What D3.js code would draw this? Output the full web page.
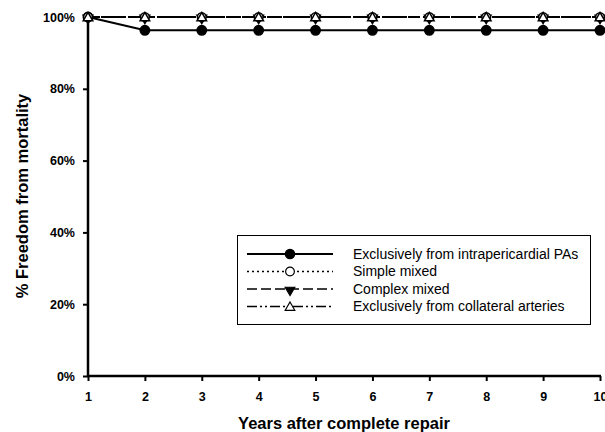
<!DOCTYPE html>
<html><head><meta charset="utf-8">
<script src="https://cdn.jsdelivr.net/npm/d3@7"></script>
<style>body{margin:0;background:#fff}svg{display:block}</style>
</head><body>
<svg id="c" width="605" height="432"></svg>
<script>
const years = [1,2,3,4,5,6,7,8,9,10];
const intrapericardial = [100,96.3,96.3,96.3,96.3,96.3,96.3,96.3,96.3,96.3];
const simpleMixed = [100,100,100,100,100,100,100,100,100,100];
const complexMixed = [100,100,100,100,100,100,100,100,100,100];
const collateral = [100,100,100,100,100,100,100,100,100,100];
const seriesNames = ["Exclusively from intrapericardial PAs","Simple mixed","Complex mixed","Exclusively from collateral arteries"];
const yTicks = [0,20,40,60,80,100];

const FONT = "Liberation Sans, Arial, sans-serif";
const svg = d3.select("#c");
const x = d3.scaleLinear().domain([1,10]).range([88,600]);
const y = d3.scaleLinear().domain([0,100]).range([376,17]);

const series = [
  {name:seriesNames[0], vals:intrapericardial, dash:null, sym:d3.symbolCircle, size:70, fill:"#000"},
  {name:seriesNames[1], vals:simpleMixed, dash:"2,3", sym:d3.symbolCircle, size:60, fill:"#fff"},
  {name:seriesNames[2], vals:complexMixed, dash:"10,4", sym:d3.symbolTriangle, size:40, fill:"#000", rot:180},
  {name:seriesNames[3], vals:collateral, dash:"10,3,2,3,2,3", sym:d3.symbolTriangle, size:40, fill:"#fff"}
];
const drawOrder = [0,2,1,3];

// axes
const xAxis = d3.axisBottom(x).tickValues(years).tickSize(5).tickFormat(d3.format("d"));
const gx = svg.append("g").attr("transform","translate(0,376)").call(xAxis);
gx.select(".domain").attr("stroke-width",2.5).attr("d","M87,0H601");
gx.selectAll(".tick line").attr("stroke-width",2);
gx.selectAll(".tick text").attr("dy","0.71em").attr("y",16)
  .style("font-family",FONT).style("font-weight","bold").style("font-size","12.5px");

const yAxis = d3.axisLeft(y).tickValues(yTicks).tickSize(5).tickFormat(d=>d+"%");
const gy = svg.append("g").attr("transform","translate(88,0)").call(yAxis);
gy.select(".domain").attr("stroke-width",2.5).attr("d","M0,377V17");
gy.selectAll(".tick line").attr("stroke-width",2);
gy.selectAll(".tick text").attr("x",-13)
  .style("font-family",FONT).style("font-weight","bold").style("font-size","12.5px");

// axis titles
svg.append("text").attr("x",344).attr("y",429).attr("text-anchor","middle")
  .style("font-family",FONT).style("font-weight","bold").style("font-size","16.5px")
  .text("Years after complete repair");
svg.append("text").attr("transform","translate(28,196) rotate(-90)").attr("text-anchor","middle")
  .style("font-family",FONT).style("font-weight","bold").style("font-size","16.5px")
  .text("% Freedom from mortality");

const line = d3.line().x((d,i)=>x(years[i])).y(d=>y(d));
drawOrder.forEach(k=>{
  const s = series[k];
  svg.append("path").attr("d",line(s.vals)).attr("fill","none").attr("stroke","#000")
    .attr("stroke-width",2).attr("stroke-dasharray",s.dash);
});
drawOrder.forEach(k=>{
  const s = series[k];
  svg.append("g").selectAll("path").data(s.vals).join("path")
    .attr("d",d3.symbol().type(s.sym).size(s.size))
    .attr("transform",(d,i)=>`translate(${x(years[i])},${y(d)+(s.sym===d3.symbolTriangle?1:0)}) rotate(${s.rot||0})`)
    .attr("fill",s.fill).attr("stroke","#000").attr("stroke-width",1.5);
});

// legend
const lg = svg.append("g");
lg.append("rect").attr("x",237.5).attr("y",235.5).attr("width",353).attr("height",89)
  .attr("fill","#fff").attr("stroke","#000").attr("stroke-width",1);
const rowY = [254,271.5,289,306.5];
series.forEach((s,i)=>{
  lg.append("line").attr("x1",247).attr("x2",333).attr("y1",rowY[i]).attr("y2",rowY[i])
    .attr("stroke","#000").attr("stroke-width",i===0?2:1.5).attr("stroke-dasharray",s.dash);
  lg.append("path").attr("d",d3.symbol().type(s.sym).size(s.size))
    .attr("transform",`translate(290,${rowY[i]+(s.sym===d3.symbolTriangle?1:0)}) rotate(${s.rot||0})`)
    .attr("fill",s.fill).attr("stroke","#000").attr("stroke-width",1.2);
  lg.append("text").attr("x",353).attr("y",rowY[i]).attr("dy","0.35em")
    .style("font-family",FONT).style("font-size","14px")
    .text(s.name);
});
</script>
</body></html>
